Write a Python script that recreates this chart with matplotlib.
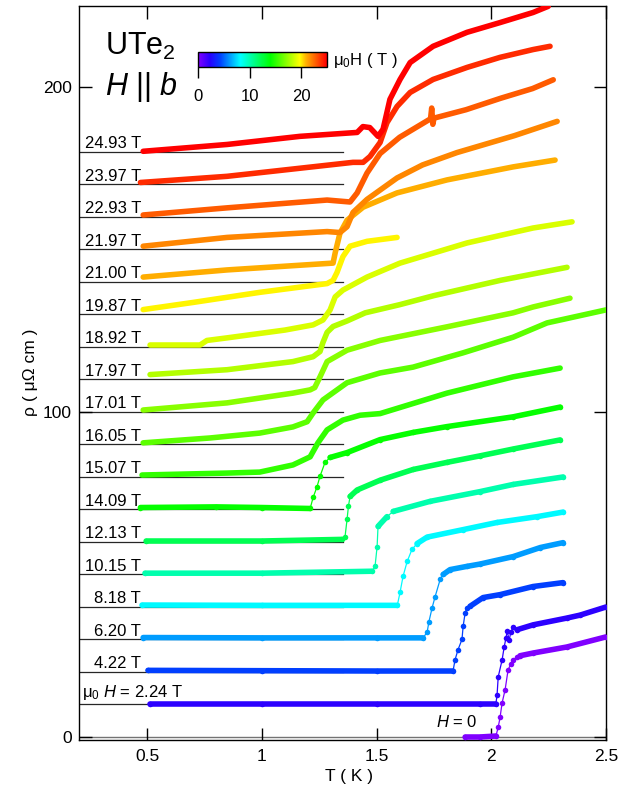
import numpy as np
import matplotlib
matplotlib.use("Agg")
import matplotlib.pyplot as plt
from matplotlib.colors import LinearSegmentedColormap, Normalize
from matplotlib.cm import ScalarMappable

plt.rcParams["font.family"] = ["Liberation Sans", "DejaVu Sans"]
plt.rcParams["mathtext.fontset"] = "custom"
plt.rcParams["mathtext.rm"] = "Liberation Sans"
plt.rcParams["mathtext.it"] = "Liberation Sans:italic"
plt.rcParams["mathtext.bf"] = "Liberation Sans:bold"

# applied field (T); curve i is shifted up by i * 10 μΩ cm
fields = [0.0, 2.24, 4.22, 6.20, 8.18, 10.15, 12.13, 14.09, 15.07, 16.05,
          17.01, 17.97, 18.92, 19.87, 21.00, 21.97, 22.93, 23.97, 24.93]
offset_step = 10.0

# temperature (K) and resistivity above the curve's own zero line (μΩ cm)
t_00 = [1.886, 1.95, 2.02, 2.03, 2.038, 2.047, 2.06, 2.073, 2.085, 2.095, 2.11, 2.125, 2.18, 2.33, 2.5]
r_00 = [0.0, 0.0, 0.3, 3.0, 6.0, 10.5, 14.5, 20.6, 22.5, 23.7, 24.5, 25.0, 25.8, 27.7, 30.8]

t_02 = [0.512, 1.0, 1.5, 1.95, 2.02, 2.025, 2.03, 2.047, 2.056, 2.064, 2.069, 2.078, 2.085, 2.095, 2.112, 2.182, 2.33, 2.387, 2.5]
r_02 = [0.3, 0.3, 0.3, 0.3, 0.3, 2.9, 8.5, 13.7, 17.7, 20.5, 22.6, 19.8, 22.3, 23.8, 23.0, 24.5, 26.6, 27.5, 30.0]

t_04 = [0.503, 1.0, 1.5, 1.833, 1.842, 1.855, 1.872, 1.877, 1.886, 1.894, 1.907, 1.964, 2.038, 2.182, 2.313]
r_04 = [0.5, 0.4, 0.3, 0.3, 3.8, 6.9, 10.0, 14.0, 18.3, 19.8, 20.2, 22.9, 23.8, 26.3, 27.5]

t_06 = [0.482, 1.0, 1.5, 1.702, 1.72, 1.728, 1.742, 1.755, 1.777, 1.79, 1.82, 1.894, 1.95, 2.095, 2.214, 2.313]
r_06 = [0.6, 0.5, 0.5, 0.5, 2.2, 5.5, 9.8, 13.2, 18.5, 20.0, 21.5, 22.5, 23.2, 25.5, 28.3, 29.8]

t_08 = [0.477, 1.0, 1.59, 1.602, 1.615, 1.633, 1.654, 1.676, 1.72, 1.877, 2.025, 2.2, 2.313]
r_08 = [0.6, 0.5, 0.5, 4.5, 9.4, 14.0, 17.7, 19.5, 21.5, 23.8, 26.0, 27.8, 29.2]

t_10 = [0.49, 1.0, 1.48, 1.493, 1.502, 1.506, 1.545, 1.572, 1.733, 1.951, 2.095, 2.313]
r_10 = [0.4, 0.4, 1.0, 2.5, 8.6, 14.8, 17.8, 19.4, 22.5, 25.5, 27.7, 30.0]

t_12 = [0.495, 1.0, 1.349, 1.362, 1.371, 1.377, 1.384, 1.415, 1.515, 1.659, 1.807, 1.951, 2.095, 2.3]
r_12 = [0.3, 0.3, 0.8, 1.5, 7.0, 11.0, 14.0, 16.0, 19.0, 22.3, 24.5, 26.5, 28.6, 31.4]

t_14 = [0.47, 0.8, 1.0, 1.21, 1.223, 1.24, 1.253, 1.275, 1.297, 1.371, 1.515, 1.659, 1.807, 2.095, 2.3]
r_14 = [0.6, 0.8, 0.6, 0.3, 3.7, 7.0, 10.2, 14.5, 16.0, 17.5, 21.5, 23.7, 25.5, 28.5, 31.5]

t_15 = [0.477, 0.848, 0.99, 1.135, 1.21, 1.244, 1.284, 1.353, 1.428, 1.515, 1.807, 2.095, 2.3]
r_15 = [0.6, 1.2, 1.5, 3.7, 6.2, 10.5, 14.5, 17.5, 19.0, 19.5, 25.8, 30.8, 33.5]

t_16 = [0.482, 0.774, 0.99, 1.135, 1.197, 1.223, 1.266, 1.371, 1.515, 1.659, 1.877, 2.095, 2.243, 2.5]
r_16 = [0.5, 2.0, 3.5, 5.4, 7.0, 9.7, 13.7, 19.0, 22.0, 23.8, 28.2, 33.0, 37.4, 41.4]

t_17 = [0.482, 0.848, 1.135, 1.21, 1.23, 1.253, 1.284, 1.371, 1.515, 1.807, 2.095, 2.182, 2.343]
r_17 = [0.6, 2.8, 5.8, 6.8, 7.5, 10.8, 15.5, 19.0, 22.0, 26.2, 30.5, 32.3, 35.0]

t_18 = [0.512, 0.848, 1.135, 1.223, 1.253, 1.266, 1.284, 1.31, 1.371, 1.45, 1.6, 1.75, 2.04, 2.33]
r_18 = [1.5, 3.0, 5.5, 7.0, 8.6, 11.4, 14.5, 16.3, 18.0, 20.5, 23.0, 25.8, 30.5, 34.5]

t_19 = [0.512, 0.73, 0.76, 0.848, 1.1, 1.223, 1.266, 1.297, 1.319, 1.353, 1.458, 1.602, 1.894, 2.182, 2.352]
r_19 = [0.6, 0.6, 2.0, 2.8, 5.2, 6.8, 8.3, 11.4, 15.4, 17.5, 21.5, 25.8, 32.0, 36.6, 38.5]

t_20 = [0.482, 0.7, 0.99, 1.284, 1.31, 1.327, 1.353, 1.384, 1.458, 1.589]
r_20 = [1.5, 3.7, 6.8, 9.5, 10.5, 12.9, 17.8, 21.0, 22.5, 23.7]

t_21 = [0.482, 0.848, 1.31, 1.319, 1.34, 1.371, 1.441, 1.589, 1.807, 2.095, 2.278]
r_21 = [1.5, 3.7, 5.8, 8.9, 15.0, 19.0, 23.0, 27.4, 31.4, 35.4, 37.5]

t_22 = [0.482, 0.848, 1.284, 1.34, 1.371, 1.397, 1.458, 1.589, 1.7, 1.85, 2.1, 2.287]
r_22 = [1.0, 3.7, 5.5, 5.2, 7.0, 11.4, 15.4, 22.0, 26.0, 29.8, 35.0, 39.4]

t_23 = [0.482, 0.848, 1.284, 1.384, 1.415, 1.458, 1.515, 1.6, 1.735, 1.74, 1.745, 1.75, 1.89, 2.04, 2.18, 2.27]
r_23 = [0.6, 2.8, 5.2, 4.6, 7.4, 13.5, 19.5, 24.5, 30.2, 33.5, 28.5, 30.4, 33.0, 36.5, 39.5, 42.2]

t_24 = [0.47, 0.848, 1.397, 1.441, 1.471, 1.515, 1.545, 1.589, 1.646, 1.746, 1.894, 2.038, 2.182, 2.256]
r_24 = [0.6, 2.5, 6.8, 6.8, 8.6, 12.9, 19.0, 24.0, 28.3, 32.3, 36.0, 39.1, 41.5, 42.5]

t_25 = [0.482, 0.848, 1.166, 1.415, 1.44, 1.47, 1.506, 1.528, 1.558, 1.602, 1.646, 1.746, 1.894, 2.038, 2.182, 2.248]
r_25 = [0.2, 2.3, 4.8, 6.0, 7.8, 7.5, 4.8, 7.0, 16.2, 22.3, 27.5, 32.5, 36.8, 39.8, 42.9, 44.8]

temps = [t_00, t_02, t_04, t_06, t_08, t_10, t_12, t_14, t_15, t_16,
         t_17, t_18, t_19, t_20, t_21, t_22, t_23, t_24, t_25]
rhos = [r_00, r_02, r_04, r_06, r_08, r_10, r_12, r_14, r_15, r_16,
        r_17, r_18, r_19, r_20, r_21, r_22, r_23, r_24, r_25]

x_ticks = [0.5, 1.0, 1.5, 2.0, 2.5]
x_tick_labels = ["0.5", "1", "1.5", "2", "2.5"]
y_ticks = [0, 100, 200]
cbar_ticks = [0, 10, 20]

cmap = LinearSegmentedColormap.from_list("field_rainbow", [
    (0.00, "#8000ff"), (0.09, "#2800ff"), (0.17, "#0040ff"), (0.25, "#00a0ff"),
    (0.33, "#00ffff"), (0.56, "#00ff00"), (0.79, "#ffff00"), (0.84, "#ffb000"),
    (1.00, "#ff0000")])
norm = Normalize(vmin=0, vmax=25)


def draw_curve(ax, t, y, color, show_points):
    """Thick band where data are dense, thin line + dots across steep jumps."""
    t = np.asarray(t, float)
    y = np.asarray(y, float)
    if show_points:
        dense = np.diff(t) >= 0.03
    else:
        dense = np.ones(len(t) - 1, bool)
    start = 0
    for k in range(1, len(dense) + 1):
        if k == len(dense) or dense[k] != dense[start]:
            seg = slice(start, k + 1)
            lw = 4.0 if dense[start] else 0.9
            ax.plot(t[seg], y[seg], color=color, lw=lw, solid_capstyle="round",
                    solid_joinstyle="round", zorder=3)
            start = k
    if show_points:
        ax.plot(t, y, "o", color=color, ms=4, mec="none", zorder=3)


fig = plt.figure(figsize=(6.39, 7.92), dpi=100)
ax = fig.add_axes([78.5 / 639, 1 - 739.5 / 792, (606 - 78.5) / 639, (739.5 - 6) / 792])
ax.set_xlim(0.2, 2.5)
ax.set_ylim(-0.77, 224.9)

ax.axhline(0, color="0.45", lw=1.0, zorder=1)
for i, (h, t, r) in enumerate(zip(fields, temps, rhos)):
    off = i * offset_step
    color = cmap(norm(h))
    if i > 0:
        ax.plot([0.2, 1.353], [off, off], color="0.15", lw=0.9, zorder=1)
        if i == 1:
            ax.text(0.215, off + 2.3, "μ$_0$ $H$ = %.2f T" % h, fontsize=12,
                    ha="left", va="baseline")
        else:
            ax.text(0.4725, off + 1.2, "%.2f T" % h, fontsize=12,
                    ha="right", va="baseline")
    draw_curve(ax, t, off + np.asarray(r), color, show_points=h < 15)

ax.text(1.94, 4.6, "$H$ = 0", fontsize=12, ha="right", va="center")
ax.text(0.3156, 209.8, "UTe$_2$", fontsize=22, ha="left", va="baseline")
ax.text(0.3156, 197.5, "$H$ || $b$", fontsize=22, ha="left", va="baseline")

ax.set_xticks(x_ticks, labels=x_tick_labels)
ax.set_yticks(y_ticks)
ax.tick_params(direction="in", length=9, width=1, top=True, right=True,
               labelsize=12.5)
ax.tick_params(axis="x", pad=7)
ax.tick_params(axis="y", pad=5)
for sp in ax.spines.values():
    sp.set_linewidth(1.0)

fig.text(349 / 639, 1 - 776 / 792, "T ( K )", fontsize=12.5, ha="center", va="center")
fig.text(30 / 639, 1 - 372 / 792, "ρ ( μΩ cm )", fontsize=12.5, ha="center",
         va="center", rotation=90)

# field colour scale
cax = fig.add_axes([198 / 639, 1 - 67 / 792, 129 / 639, 15 / 792])
cb = fig.colorbar(ScalarMappable(norm=norm, cmap=cmap), cax=cax, orientation="horizontal")
cb.set_ticks(cbar_ticks)
cb.outline.set_linewidth(1.0)
cax.tick_params(direction="out", length=8, width=1, labelsize=12, pad=8)
fig.text(333 / 639, 1 - 60 / 792, "μ$_0$H ( T )", fontsize=12, ha="left", va="center")

fig.savefig("out.png", dpi=100)
